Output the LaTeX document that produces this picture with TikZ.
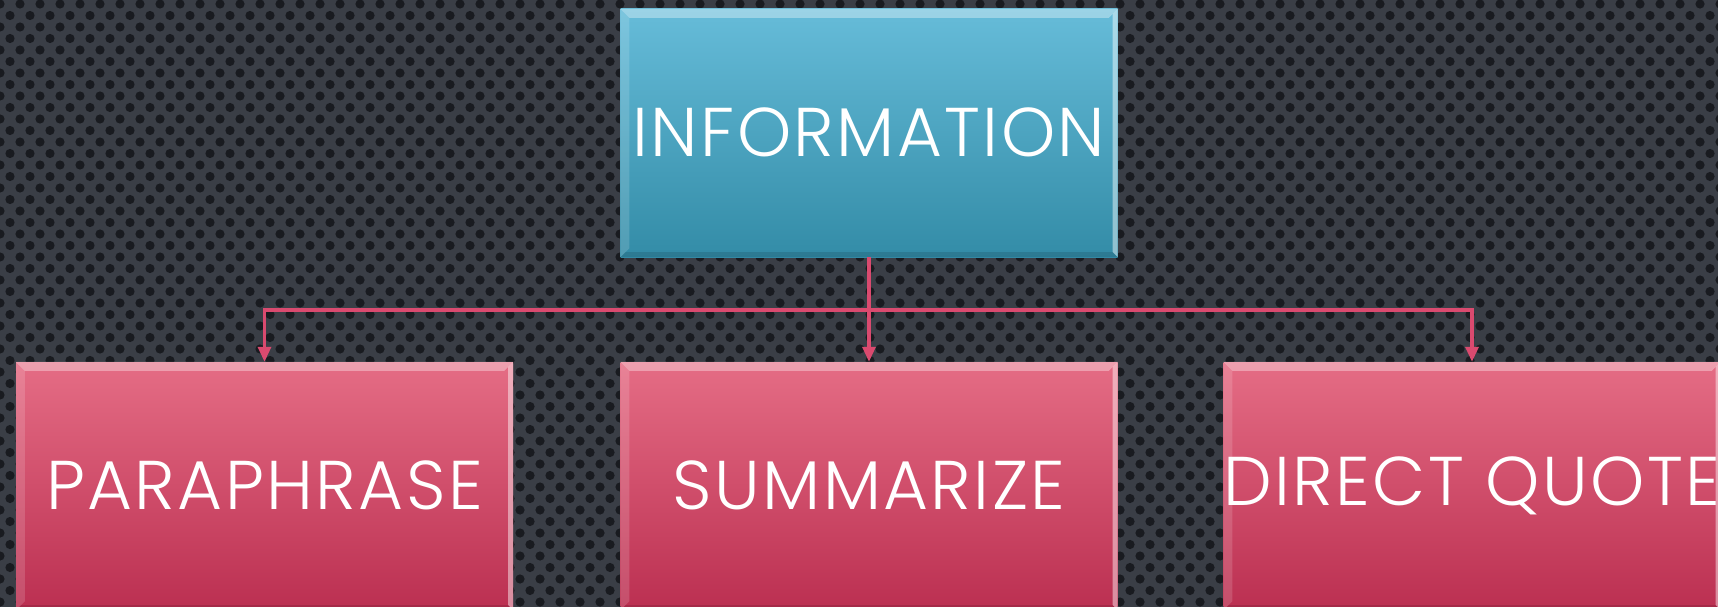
\documentclass[tikz,border=0pt]{standalone}
\usepackage{fontspec}
\newfontfamily\gfont[LetterSpace=3.5]{Poppins Light}
\usetikzlibrary{arrows.meta}
\definecolor{bgc}{HTML}{3A3E46}
\definecolor{dotc}{HTML}{191B20}
\definecolor{bluetop}{HTML}{66BCD9}
\definecolor{bluebot}{HTML}{338CA7}
\definecolor{pinktop}{HTML}{E56D85}
\definecolor{pinkbot}{HTML}{BB2F51}
\definecolor{connc}{HTML}{DA4A6F}
\tikzset{
  boxbase/.style={rectangle, minimum width=497pt, minimum height=248pt, inner sep=0pt,
    text=white, font=\gfont\fontsize{69}{72}\selectfont},
  bluebox/.style={boxbase, top color=bluetop, bottom color=bluebot},
  pinkbox/.style={boxbase, top color=pinktop, bottom color=pinkbot},
  conn/.style={draw=connc, line width=3.2pt},
  tipped/.style={conn, -{Triangle[length=15pt,width=13pt]}, shorten >=0pt}
}
\begin{document}
\begin{tikzpicture}[x=1pt,y=-1pt]
\path[use as bounding box, clip] (0,0) rectangle (1718,607);
\fill[bgc] (0,0) rectangle (1718,607);
\foreach \r in {0,...,53} {
  \pgfmathsetmacro{\off}{mod(\r,2)*10}
  \fill[dotc] \foreach \c in {0,...,87} { ({\c*20+\off}, {\r*11.5+4}) circle[radius=4.6pt] };
}
\node[bluebox] (info) at (869,133) {\raisebox{2pt}{INFORMATION}};
\node[pinkbox] (para) at (264.5,486) {\raisebox{2pt}{PARAPHRASE}};
\node[pinkbox] (summ) at (869,486) {\raisebox{2pt}{SUMMARIZE}};
\node[pinkbox] (quote) at (1472,486) {\raisebox{2pt}{DIRECT QUOTE}};
\foreach \n in {info,para,summ,quote} {
  \fill[white,opacity=0.35] (\n.north west) -- (\n.north east) -- ([shift={(-9,9)}]\n.north east) -- ([shift={(9,9)}]\n.north west) -- cycle;
  \fill[white,opacity=0.15] (\n.north west) -- ([shift={(9,9)}]\n.north west) -- ([shift={(9,-9)}]\n.south west) -- (\n.south west) -- cycle;
  \fill[white,opacity=0.45] (\n.north east) -- ([shift={(-5,5)}]\n.north east) -- ([shift={(-5,-5)}]\n.south east) -- (\n.south east) -- cycle;
  \fill[black,opacity=0.12] (\n.south west) -- (\n.south east) -- ([shift={(-5,-5)}]\n.south east) -- ([shift={(5,-5)}]\n.south west) -- cycle;
}
\coordinate (j) at (info.south |- 0,310);
\draw[tipped] (info.south) -- (summ.north);
\draw[tipped] (j) -| (para.north);
\draw[tipped] (j) -| (quote.north);
\end{tikzpicture}
\end{document}
